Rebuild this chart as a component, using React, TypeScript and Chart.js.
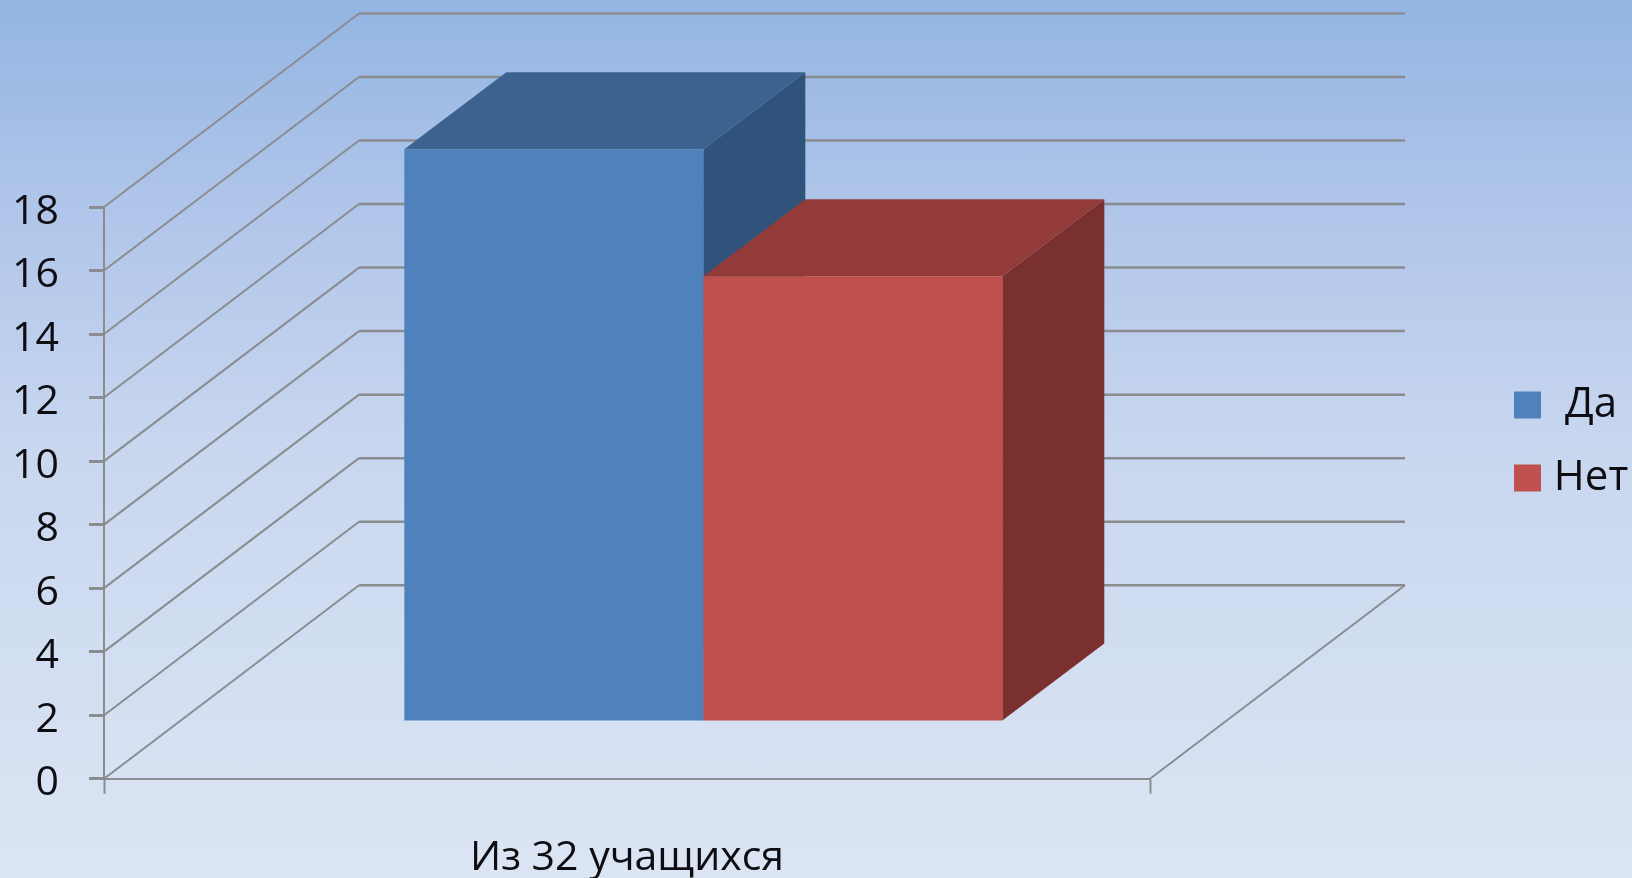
import React, { useEffect, useRef } from "react";
import { Chart, registerables } from "chart.js";

Chart.register(...registerables);

const categories = ["Из 32 учащихся"];
const seriesNames = ["Да", "Нет"];
const daValues = [18];
const netValues = [14];
const yMin = 0;
const yMax = 18;
const yStep = 2;

const FONT = "'Open Sans', 'Noto Sans', sans-serif";
const GRID = "#8a8c90";
const TEXT = "#0d0d12";

const WALL_DX = 255;
const WALL_DY = 193.5;
const BAR_DX = 76.3;
const BAR_DY = 57.7;
const BAR_DEPTH_X = 102;
const BAR_DEPTH_Y = 77;

const faceColors = [
  { front: "#4F81BD", top: "#3C628F", side: "#30537B" },
  { front: "#C0504D", top: "#933B39", side: "#7A302E" },
];

const poly = (ctx: CanvasRenderingContext2D, pts: number[][], fill: string) => {
  ctx.beginPath();
  pts.forEach(([x, y], i) => (i ? ctx.lineTo(x, y) : ctx.moveTo(x, y)));
  ctx.closePath();
  ctx.fillStyle = fill;
  ctx.fill();
};

const box3d = {
  id: "box3d",
  beforeLayout(chart: any) {
    const l = chart.legend;
    if (l && !l.__patched) {
      l.__patched = true;
      const fit = l.fit;
      l.fit = function () {
        fit.call(this);
        this.width = 482;
      };
      l.draw = function () {
        this._draw();
      };
    }
  },
  afterLayout(chart: any) {
    const l = chart.legend;
    if (!l) return;
    const pad = l.options.labels.padding;
    l.left = 1514 - pad;
    l.right = 1620;
    l.top = 384 - pad;
    l.bottom = 640;
  },
  beforeDatasetsDraw(chart: any) {
    const { ctx, scales } = chart;
    const { x, y } = scales;
    ctx.save();
    ctx.strokeStyle = GRID;
    ctx.lineCap = "butt";
    y.ticks.forEach((t: any) => {
      const py = y.getPixelForValue(t.value);
      ctx.lineWidth = 2;
      ctx.beginPath();
      ctx.moveTo(x.left, py);
      ctx.lineTo(x.left + WALL_DX, py - WALL_DY);
      ctx.stroke();
      ctx.lineWidth = 2.5;
      ctx.beginPath();
      ctx.moveTo(x.left + WALL_DX, py - WALL_DY);
      ctx.lineTo(x.right + WALL_DX, py - WALL_DY);
      ctx.stroke();
    });
    const p0 = y.getPixelForValue(yMin);
    ctx.lineWidth = 2;
    ctx.beginPath();
    ctx.moveTo(x.right, p0);
    ctx.lineTo(x.right + WALL_DX, p0 - WALL_DY);
    ctx.stroke();

    chart.data.datasets.forEach((_: any, i: number) => {
      const bar = chart.getDatasetMeta(i).data[0];
      const { x: cx, y: top, base, width } = bar.getProps(["x", "y", "base", "width"], true);
      const L = cx - width / 2 + BAR_DX;
      const R = cx + width / 2 + BAR_DX;
      const T = top - BAR_DY;
      const B = base - BAR_DY;
      poly(ctx, [[R, T], [R + BAR_DEPTH_X, T - BAR_DEPTH_Y], [R + BAR_DEPTH_X, B - BAR_DEPTH_Y], [R, B]], faceColors[i].side);
      poly(ctx, [[L, T], [L + BAR_DEPTH_X, T - BAR_DEPTH_Y], [R + BAR_DEPTH_X, T - BAR_DEPTH_Y], [R, T]], faceColors[i].top);
    });
    ctx.restore();
  },
  beforeDatasetDraw(chart: any) {
    chart.ctx.save();
    chart.ctx.translate(BAR_DX, -BAR_DY);
  },
  afterDatasetDraw(chart: any) {
    chart.ctx.restore();
  },
};

export default function App() {
  const ref = useRef<HTMLCanvasElement>(null);

  useEffect(() => {
    document.body.style.margin = "0";
    const chart = new Chart(ref.current as HTMLCanvasElement, {
      type: "bar",
      data: {
        labels: categories,
        datasets: [
          { label: seriesNames[0], data: daValues, backgroundColor: faceColors[0].front, clip: false },
          { label: seriesNames[1], data: netValues, backgroundColor: faceColors[1].front, clip: false },
        ],
      } as any,
      plugins: [box3d as any],
      options: {
        responsive: false,
        animation: false,
        events: [],
        layout: { padding: { top: 207, left: 0, right: 0, bottom: 0 } },
        datasets: { bar: { categoryPercentage: 0.5717, barPercentage: 1 } },
        plugins: {
          tooltip: { enabled: false },
          title: { display: false },
          legend: {
            display: true,
            position: "right",
            align: "start",
            labels: {
              boxWidth: 27,
              boxHeight: 27,
              padding: 31,
              color: TEXT,
              textAlign: "center",
              font: { family: FONT, size: 42 },
            },
          },
        },
        scales: {
          x: {
            afterFit: (s: any) => {
              s.height = 99.3;
            },
            border: { color: GRID, width: 2 },
            grid: { drawOnChartArea: false, drawTicks: true, tickLength: 15, tickWidth: 2, tickColor: GRID, offset: true },
            ticks: { color: TEXT, padding: 40, maxRotation: 0, font: { family: FONT, size: 41 } },
          },
          y: {
            min: yMin,
            max: yMax,
            afterFit: (s: any) => {
              s.width = 104;
            },
            border: { color: GRID, width: 2 },
            grid: { drawOnChartArea: false, drawTicks: true, tickLength: 15, tickWidth: 3, tickColor: GRID },
            ticks: { stepSize: yStep, color: TEXT, padding: 30, labelOffset: 5, autoSkip: false, font: { family: FONT, size: 41 } },
          },
        },
      } as any,
    });
    return () => chart.destroy();
  }, []);

  return (
    <canvas
      ref={ref}
      width={1632}
      height={878}
      style={{
        display: "block",
        width: 1632,
        height: 878,
        background: "linear-gradient(180deg, #93B5E2 0%, #AEC4E9 22%, #C8D6EF 50%, #D2DEF1 75%, #DBE5F4 100%)",
      }}
    />
  );
}
